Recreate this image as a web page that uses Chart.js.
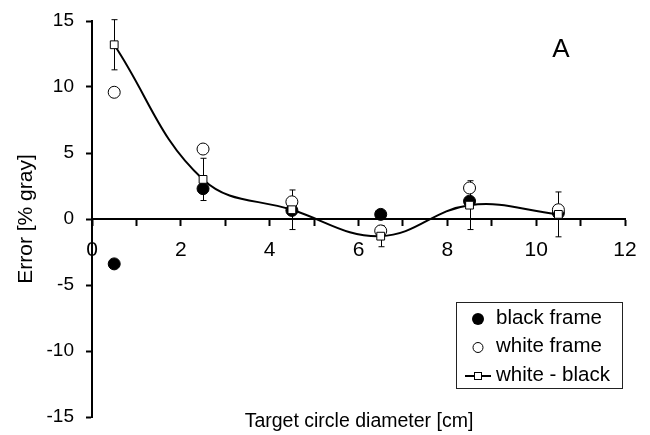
<!DOCTYPE html>
<html>
<head>
<meta charset="utf-8">
<script src="https://cdn.jsdelivr.net/npm/chart.js@4.4.1/dist/chart.umd.min.js"></script>
<style>
  html, body { margin: 0; padding: 0; background: #fff; }
  #wrap { width: 650px; height: 435px; }
</style>
</head>
<body>
<div id="wrap"><canvas id="chart" width="650" height="435"></canvas></div>
<script>
// Target circle diameter [cm] vs error [% gray]

const diameters       = [0.5, 2.5, 4.5, 6.5, 8.5, 10.5];
const blackFrame      = [-3.4, 2.3, 0.65, 0.35, 1.35, 0.45];
const whiteFrame      = [9.6, 5.3, 1.3, -0.9, 2.35, 0.7];
const whiteMinusBlack = [13.2, 3.0, 0.7, -1.3, 1.05, 0.35];
const diffError       = [1.9, 1.6, 1.5, 0.8, 1.85, 1.7];

const xTickLabels = [0, 2, 4, 6, 8, 10, 12];
const yTickLabels = [-15, -10, -5, 0, 5, 10, 15];

const FONT = "'Liberation Sans', Arial, sans-serif";

const toPoints = ys => ys.map((y, i) => ({ x: diameters[i], y }));

// Error bars for the difference series, drawn under the markers
const errorBars = {
  id: 'errorBars',
  beforeDatasetsDraw(chart) {
    const { ctx, scales: { x, y } } = chart;
    ctx.save();
    ctx.strokeStyle = '#000';
    ctx.lineWidth = 1;
    whiteMinusBlack.forEach((v, i) => {
      const px = Math.round(x.getPixelForValue(diameters[i])) + 0.5;
      const top = y.getPixelForValue(v + diffError[i]);
      const bot = y.getPixelForValue(v - diffError[i]);
      ctx.beginPath();
      ctx.moveTo(px, top); ctx.lineTo(px, bot);
      ctx.moveTo(px - 3, top); ctx.lineTo(px + 3, top);
      ctx.moveTo(px - 3, bot); ctx.lineTo(px + 3, bot);
      ctx.stroke();
    });
    ctx.restore();
  }
};

// Panel letter, x title and the boxed legend
const extras = {
  id: 'extras',
  afterDraw(chart) {
    const { ctx, chartArea } = chart;
    ctx.save();
    ctx.fillStyle = '#000';
    ctx.textBaseline = 'middle';

    ctx.font = `26px ${FONT}`;
    ctx.textAlign = 'center';
    ctx.fillText('A', 561, 50);

    ctx.font = `19.5px ${FONT}`;
    ctx.fillText('Target circle diameter [cm]', (chartArea.left + chartArea.right) / 2 + 0.5, 422);

    // legend
    ctx.strokeStyle = '#222';
    ctx.lineWidth = 1;
    ctx.strokeRect(456.5, 302.5, 166, 86);

    ctx.font = `20.5px ${FONT}`;
    ctx.textAlign = 'left';
    const rows = [318, 346.5, 375];
    const labels = ['black frame', 'white frame', 'white - black'];
    labels.forEach((t, i) => ctx.fillText(t, 496, rows[i]));

    ctx.beginPath();
    ctx.arc(478, rows[0] + 1, 6, 0, Math.PI * 2);
    ctx.fillStyle = '#000';
    ctx.fill();

    ctx.beginPath();
    ctx.arc(478, rows[1] + 1, 5, 0, Math.PI * 2);
    ctx.fillStyle = '#fff';
    ctx.fill();
    ctx.strokeStyle = '#000';
    ctx.stroke();

    ctx.lineWidth = 2;
    ctx.beginPath();
    ctx.moveTo(465, rows[2] + 1); ctx.lineTo(491, rows[2] + 1);
    ctx.stroke();
    ctx.lineWidth = 1;
    ctx.fillStyle = '#fff';
    ctx.fillRect(474.5, rows[2] - 2.5, 7, 7);
    ctx.strokeRect(474.5, rows[2] - 2.5, 7, 7);
    ctx.restore();
  }
};

new Chart(document.getElementById('chart'), {
  type: 'scatter',
  data: {
    datasets: [
      {
        label: 'black frame',
        data: toPoints(blackFrame),
        pointRadius: 6,
        pointHoverRadius: 6,
        backgroundColor: '#000',
        borderColor: '#000',
        borderWidth: 1,
        order: 3,
      },
      {
        label: 'white frame',
        data: toPoints(whiteFrame),
        pointRadius: 6,
        pointHoverRadius: 6,
        backgroundColor: '#fff',
        borderColor: '#000',
        borderWidth: 1,
        order: 2,
      },
      {
        label: 'white - black',
        data: toPoints(whiteMinusBlack),
        showLine: true,
        tension: 0.4,
        borderColor: '#000',
        borderWidth: 2,
        pointStyle: 'rect',
        pointRadius: 5.5,
        pointHoverRadius: 5.5,
        pointBackgroundColor: '#fff',
        pointBorderColor: '#000',
        pointBorderWidth: 1,
        order: 1,
      },
    ],
  },
  options: {
    responsive: false,
    animation: false,
    events: [],
    layout: { padding: { left: 0, right: 25, top: 21, bottom: 18 } },
    plugins: {
      legend: { display: false },
      tooltip: { enabled: false },
    },
    scales: {
      x: {
        type: 'linear',
        position: { y: 0 },
        min: 0,
        max: 12,
        afterFit: scale => {
          scale.height = 0;
          scale.paddingLeft = 0;
          scale.paddingRight = 0;
        },
        afterBuildTicks: scale => {
          const ticks = [];
          for (let v = 0; v <= 12; v++) ticks.push({ value: v });
          scale.ticks = ticks;
        },
        ticks: {
          autoSkip: false,
          maxRotation: 0,
          padding: 13,
          color: '#000',
          font: { family: FONT, size: 21 },
          callback: v => (xTickLabels.includes(v) ? String(v) : ''),
        },
        grid: {
          drawOnChartArea: false,
          drawTicks: true,
          tickLength: 6,
          tickColor: '#000',
          tickWidth: 2,
          color: '#000',
        },
        border: { display: true, color: '#000', width: 2 },
      },
      y: {
        type: 'linear',
        min: -15,
        max: 15,
        afterFit: scale => {
          scale.width = 92;
          scale.paddingTop = 0;
          scale.paddingBottom = 0;
        },
        afterBuildTicks: scale => {
          scale.ticks = yTickLabels.map(v => ({ value: v }));
        },
        ticks: {
          padding: 12,
          color: '#000',
          font: { family: FONT, size: 19 },
        },
        grid: {
          drawOnChartArea: false,
          drawTicks: true,
          tickLength: 6,
          tickColor: '#000',
          tickWidth: 2,
          color: '#000',
        },
        border: { display: true, color: '#000', width: 2 },
        title: {
          display: true,
          text: 'Error [% gray]',
          color: '#000',
          font: { family: FONT, size: 21 },
          padding: { top: 14, bottom: 0 },
        },
      },
    },
  },
  plugins: [errorBars, extras],
});
</script>
</body>
</html>
